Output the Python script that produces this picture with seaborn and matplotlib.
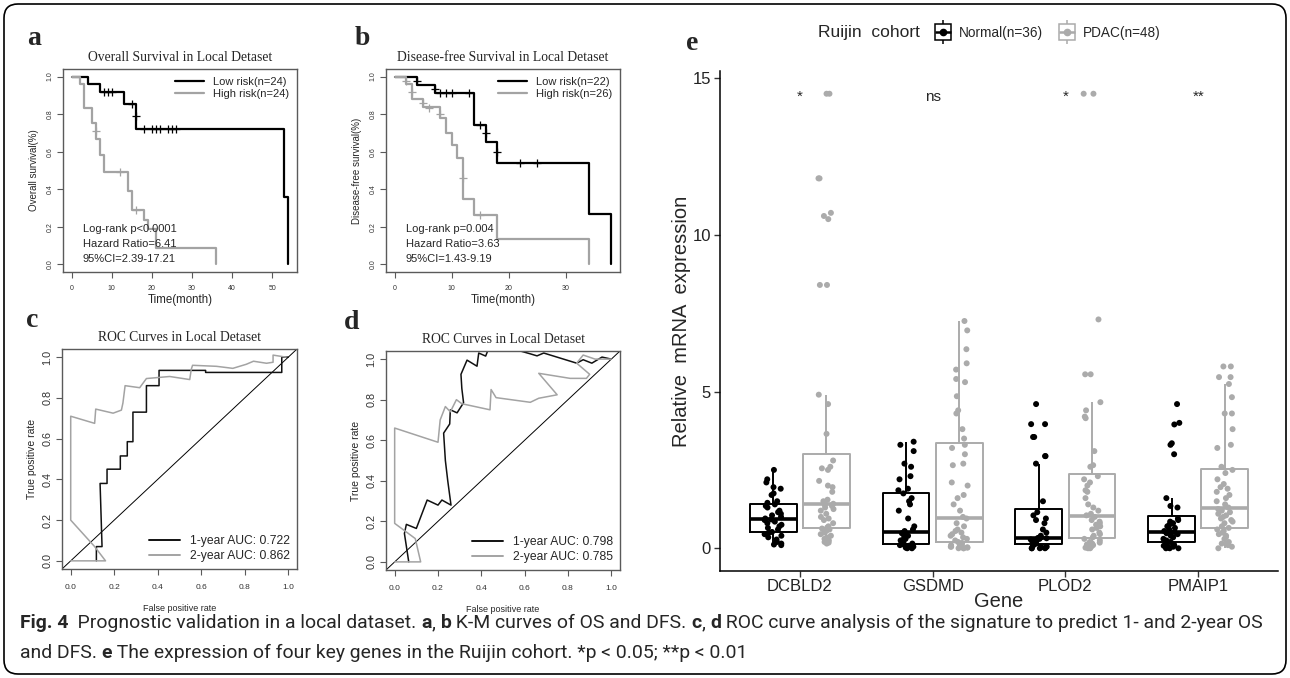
import numpy as np
import pandas as pd
import seaborn as sns
import matplotlib.pyplot as plt
from matplotlib import font_manager
from matplotlib.lines import Line2D
from matplotlib.legend_handler import HandlerTuple
from matplotlib.patches import FancyBboxPatch
from matplotlib.transforms import IdentityTransform

sns.set_style("ticks")
SANS = ["Liberation Sans", "DejaVu Sans"]
SERIF = ["Liberation Serif", "DejaVu Serif"]
plt.rcParams["font.family"] = SANS

W, H = 1290, 678
BLACK = "#000000"
GREY = "#a3a3a3"
FRAME = "#5a5a5a"

# ---------------- panel a: overall survival (step points, censor marks)
os_low_t = [0, 4, 7, 13, 16, 53, 54]
os_low_s = [1.0, 0.958, 0.917, 0.855, 0.72, 0.36, 0.0]
os_low_ct = [8, 9, 10, 15, 16, 18, 20, 21, 22, 24, 25, 26]
os_low_cs = [0.917, 0.917, 0.917, 0.855, 0.79, 0.72, 0.72, 0.72, 0.72, 0.72, 0.72, 0.72]
os_high_t = [0, 2, 3, 5, 6, 7, 8, 14, 15, 18, 19, 21, 36]
os_high_s = [1.0, 0.958, 0.835, 0.752, 0.668, 0.585, 0.49, 0.39, 0.292, 0.238, 0.19, 0.089, 0.0]
os_high_ct = [6, 12, 16]
os_high_cs = [0.71, 0.49, 0.292]

# ---------------- panel b: disease-free survival
dfs_low_t = [0, 4, 7, 14, 16, 18, 34, 38]
dfs_low_s = [1.0, 0.955, 0.91, 0.742, 0.649, 0.54, 0.268, 0.0]
dfs_low_ct = [4, 7, 8, 9, 10, 13, 15, 16, 18, 22, 25]
dfs_low_cs = [0.975, 0.935, 0.91, 0.91, 0.91, 0.91, 0.742, 0.70, 0.60, 0.54, 0.54]
dfs_high_t = [0, 2, 3, 5, 8, 9, 10, 11, 12, 14, 18, 34]
dfs_high_s = [1.0, 0.96, 0.882, 0.839, 0.777, 0.70, 0.637, 0.567, 0.35, 0.263, 0.133, 0.0]
dfs_high_ct = [2, 3, 5, 6, 8, 12, 15]
dfs_high_cs = [0.975, 0.92, 0.86, 0.835, 0.80, 0.46, 0.263]

# ---------------- panels c, d: ROC curves
c1_fpr = [0.118, 0.118, 0.144, 0.135, 0.167, 0.167, 0.228, 0.228, 0.26, 0.26, 0.286, 0.286,
          0.348, 0.348, 0.406, 0.406, 0.62, 0.62, 0.97, 0.97, 1.0]
c1_tpr = [0.0, 0.07, 0.07, 0.38, 0.38, 0.45, 0.45, 0.515, 0.515, 0.585, 0.585, 0.73,
          0.73, 0.86, 0.86, 0.935, 0.935, 0.925, 0.925, 1.0, 1.0]
c2_fpr = [0.0, 0.16, 0.11, 0.0, 0.0, 0.11, 0.115, 0.195, 0.233, 0.24, 0.25, 0.317, 0.348,
          0.455, 0.547, 0.554, 0.56, 0.67, 0.745, 0.807, 0.84, 0.9, 0.93, 0.93, 0.99]
c2_tpr = [0.0, 0.0, 0.07, 0.2, 0.71, 0.675, 0.745, 0.725, 0.74, 0.775, 0.86, 0.85, 0.895,
          0.905, 0.89, 0.94, 0.96, 0.955, 0.945, 0.965, 0.98, 0.97, 0.975, 1.01, 1.0]
d1_fpr = [0.065, 0.045, 0.054, 0.1, 0.15, 0.2, 0.218, 0.26, 0.245, 0.234, 0.226, 0.254, 0.257,
          0.288, 0.318, 0.31, 0.306, 0.334, 0.38, 0.388, 0.42, 0.44, 0.56, 0.58, 0.626, 0.657,
          0.688, 0.84, 0.87, 0.91, 0.957, 1.0]
d1_tpr = [0.0, 0.14, 0.185, 0.165, 0.305, 0.28, 0.305, 0.28, 0.4, 0.5, 0.635, 0.68, 0.75,
          0.735, 0.785, 0.855, 0.925, 0.995, 0.965, 1.03, 1.015, 1.07, 1.07, 1.04, 1.026, 1.016,
          1.03, 0.98, 0.997, 0.98, 1.01, 1.0]
d2_fpr = [0.0, 0.12, 0.095, 0.0, 0.0, 0.2, 0.21, 0.234, 0.257, 0.285, 0.31, 0.44, 0.445, 0.468,
          0.626, 0.665, 0.75, 0.665, 0.81, 0.885, 0.9, 0.84, 0.87, 0.925, 1.0]
d2_tpr = [0.0, 0.0, 0.115, 0.19, 0.66, 0.59, 0.70, 0.766, 0.74, 0.80, 0.78, 0.75, 0.85, 0.81,
          0.787, 0.807, 0.824, 0.93, 0.905, 0.905, 0.925, 0.98, 1.02, 1.0, 1.0]

# ---------------- panel e: relative mRNA expression
genes = ["DCBLD2", "GSDMD", "PLOD2", "PMAIP1"]
groups = ["Normal(n=36)", "PDAC(n=48)"]
signif = ["*", "ns", "*", "**"]
normal_vals = {
    "DCBLD2": [0.1, 0.12, 0.15, 0.2, 0.28, 0.35, 0.4, 0.45, 0.5, 0.52, 0.6, 0.65, 0.7, 0.75,
               0.8, 0.85, 0.9, 0.92, 0.95, 1.0, 1.05, 1.1, 1.15, 1.2, 1.3, 1.35, 1.4, 1.45,
               1.5, 1.7, 1.75, 1.9, 1.95, 2.1, 2.2, 2.5],
    "GSDMD": [0.0, 0.0, 0.02, 0.03, 0.05, 0.05, 0.08, 0.1, 0.12, 0.15, 0.2, 0.25, 0.3, 0.35,
              0.4, 0.45, 0.48, 0.5, 0.55, 0.6, 0.7, 0.95, 1.2, 1.4, 1.5, 1.6, 1.75, 1.85, 1.9,
              2.2, 2.3, 2.6, 2.7, 3.1, 3.3, 3.4],
    "PLOD2": [0.0, 0.0, 0.0, 0.0, 0.02, 0.03, 0.05, 0.08, 0.12, 0.15, 0.18, 0.2, 0.22, 0.25,
              0.28, 0.3, 0.32, 0.33, 0.35, 0.4, 0.5, 0.6, 0.8, 0.9, 0.95, 1.05, 1.15, 1.5,
              2.7, 2.94, 2.94, 3.55, 3.55, 3.96, 3.96, 4.6],
    "PMAIP1": [0.0, 0.0, 0.0, 0.02, 0.05, 0.08, 0.1, 0.12, 0.15, 0.2, 0.25, 0.3, 0.35, 0.4,
               0.45, 0.48, 0.5, 0.52, 0.55, 0.6, 0.65, 0.7, 0.75, 0.8, 0.85, 0.9, 0.95, 1.3,
               1.35, 1.6, 3.0, 3.3, 3.35, 3.95, 4.0, 4.6],
}
pdac_vals = {
    "DCBLD2": [0.15, 0.18, 0.2, 0.25, 0.3, 0.35, 0.4, 0.45, 0.5, 0.55, 0.6, 0.63, 0.66, 0.7,
               0.8, 0.9, 0.95, 1.0, 1.1, 1.2, 1.25, 1.3, 1.35, 1.38, 1.42, 1.45, 1.5, 1.55,
               1.8, 1.95, 2.0, 2.15, 2.5, 2.55, 2.6, 2.8, 3.65, 4.6, 4.9, 8.4, 8.4, 10.5,
               10.6, 10.7, 11.8, 11.8, 14.5, 14.5],
    "GSDMD": [0.0, 0.0, 0.0, 0.02, 0.03, 0.05, 0.05, 0.08, 0.1, 0.12, 0.15, 0.17, 0.2, 0.25,
              0.3, 0.35, 0.4, 0.45, 0.5, 0.55, 0.6, 0.7, 0.8, 0.95, 1.0, 1.2, 1.4, 1.6, 1.7,
              2.0, 2.1, 2.65, 2.7, 3.0, 3.2, 3.3, 3.5, 3.8, 4.3, 4.4, 4.85, 5.3, 5.4, 5.7,
              5.9, 6.35, 6.95, 7.25],
    "PLOD2": [0.0, 0.0, 0.02, 0.05, 0.08, 0.1, 0.12, 0.15, 0.18, 0.2, 0.25, 0.3, 0.35, 0.4,
              0.45, 0.5, 0.6, 0.65, 0.7, 0.75, 0.8, 0.85, 0.9, 1.0, 1.05, 1.1, 1.2, 1.3, 1.4,
              1.6, 1.8, 1.85, 2.0, 2.1, 2.2, 2.3, 2.6, 2.65, 3.1, 4.15, 4.2, 4.4, 4.66, 5.55,
              5.55, 7.3, 14.5, 14.5],
    "PMAIP1": [0.0, 0.05, 0.1, 0.15, 0.2, 0.3, 0.35, 0.4, 0.45, 0.5, 0.55, 0.6, 0.65, 0.7,
               0.8, 0.85, 0.9, 0.95, 1.0, 1.05, 1.1, 1.15, 1.2, 1.25, 1.3, 1.4, 1.5, 1.6, 1.7,
               1.8, 1.9, 1.95, 2.05, 2.2, 2.4, 2.5, 2.6, 3.2, 3.3, 3.8, 4.3, 4.3, 4.82, 5.24,
               5.46, 5.46, 5.8, 5.8],
}


def px_axes(fig, left, top, right, bottom):
    return fig.add_axes([left / W, 1 - bottom / H, (right - left) / W, (bottom - top) / H])


def r_frame(ax, xticks, xlim, tick_x, tick_y):
    ax.set_xlim(*xlim)
    ax.set_ylim(-0.04, 1.04)
    ax.set_xticks(xticks)
    ax.set_yticks([0, 0.2, 0.4, 0.6, 0.8, 1.0])
    ax.set_yticklabels(["0.0", "0.2", "0.4", "0.6", "0.8", "1.0"])
    for sp in ax.spines.values():
        sp.set_color(FRAME)
        sp.set_linewidth(1.0)
    ax.tick_params(axis="x", length=4, width=0.8, color=FRAME, labelsize=tick_x, pad=5, labelcolor="#333333")
    ax.tick_params(axis="y", length=4, width=0.8, color=FRAME, labelsize=tick_y, pad=3, labelcolor="#333333")
    plt.setp(ax.get_yticklabels(), rotation=90, va="center")


def km_panel(ax, curves, xlim, xticks, title, ylabel, legend_labels, stats):
    for t, s, ct, cs, col in curves:
        sns.lineplot(x=t, y=s, drawstyle="steps-post", color=col, lw=1.6,
                     estimator=None, sort=False, ax=ax)
        sns.scatterplot(x=ct, y=cs, marker="+", s=28, color=col, linewidth=0.9,
                        legend=False, ax=ax)
    r_frame(ax, xticks, xlim, 5, 5)
    ax.set_title(title, family=SERIF, fontsize=9.8, pad=6)
    ax.set_ylabel(ylabel, fontsize=7, labelpad=5)
    ax.set_xlabel("Time(month)", fontsize=8.3, labelpad=2)
    handles = [Line2D([], [], color=c[4], lw=1.6) for c in curves]
    ax.legend(handles, legend_labels, loc="upper right", frameon=False, fontsize=8,
              handlelength=2.6, borderaxespad=0.3, labelspacing=0.2)
    for i, line in enumerate(stats):
        ax.text(xlim[0] + 0.085 * (xlim[1] - xlim[0]), 0.19 - 0.08 * i, line,
                fontsize=8, va="center", ha="left")


def roc_panel(ax, fpr1, tpr1, fpr2, tpr2, labels):
    ax.axline((0, 0), (1, 1), color=BLACK, lw=0.7)
    sns.lineplot(x=fpr1, y=tpr1, color="#111111", lw=1.1, estimator=None, sort=False, ax=ax)
    sns.lineplot(x=fpr2, y=tpr2, color=GREY, lw=1.1, estimator=None, sort=False, ax=ax)
    r_frame(ax, [0, 0.2, 0.4, 0.6, 0.8, 1.0], (-0.04, 1.04), 6, 7.8)
    ax.set_xticklabels(["0.0", "0.2", "0.4", "0.6", "0.8", "1.0"])
    ax.tick_params(axis="x", pad=7)
    ax.set_title("ROC Curves in Local Detaset", family=SERIF, fontsize=9.8, pad=6)
    ax.set_ylabel("True positive rate", fontsize=7.5, labelpad=4)
    ax.set_xlabel("False positive rate", fontsize=6.5, labelpad=9)
    handles = [Line2D([], [], color="#111111", lw=1.4), Line2D([], [], color=GREY, lw=1.4)]
    ax.legend(handles, labels, loc="lower right", frameon=False, fontsize=8.7,
              handlelength=2.6, borderaxespad=0.2, labelspacing=0.2)


fig = plt.figure(figsize=(W / 100, H / 100), dpi=100)

ax_a = px_axes(fig, 63, 69, 297, 272)
km_panel(ax_a,
         [(os_low_t, os_low_s, os_low_ct, os_low_cs, BLACK),
          (os_high_t, os_high_s, os_high_ct, os_high_cs, GREY)],
         (-2.16, 56.16), [0, 10, 20, 30, 40, 50],
         "Overall Survival in Local Detaset", "Overall survival(%)",
         ["Low risk(n=24)", "High risk(n=24)"],
         ["Log-rank p<0.0001", "Hazard Ratio=6.41", "95%CI=2.39-17.21"])

ax_b = px_axes(fig, 386, 69, 620, 272)
km_panel(ax_b,
         [(dfs_low_t, dfs_low_s, dfs_low_ct, dfs_low_cs, BLACK),
          (dfs_high_t, dfs_high_s, dfs_high_ct, dfs_high_cs, GREY)],
         (-1.52, 39.52), [0, 10, 20, 30],
         "Disease-free Survival in Local Detaset", "Disease-free survival(%)",
         ["Low risk(n=22)", "High risk(n=26)"],
         ["Log-rank p=0.004", "Hazard Ratio=3.63", "95%CI=1.43-9.19"])

ax_c = px_axes(fig, 62, 349, 297, 569)
roc_panel(ax_c, c1_fpr, c1_tpr, c2_fpr, c2_tpr, ["1-year AUC: 0.722", "2-year AUC: 0.862"])

ax_d = px_axes(fig, 386, 351, 620, 570)
roc_panel(ax_d, d1_fpr, d1_tpr, d2_fpr, d2_tpr, ["1-year AUC: 0.798", "2-year AUC: 0.785"])

# ---------------- panel e
rows = []
for g in genes:
    rows += [(g, groups[0], v) for v in normal_vals[g]]
    rows += [(g, groups[1], v) for v in pdac_vals[g]]
df = pd.DataFrame(rows, columns=["gene", "cohort", "value"])

ax_e = px_axes(fig, 720, 71, 1278, 571)
pal = [BLACK, "#ababab"]
sns.boxplot(data=df, x="gene", y="value", hue="cohort", order=genes, hue_order=groups,
            palette=pal, fill=False, showfliers=False, showcaps=False, width=0.8, gap=0.12,
            linewidth=1.4, medianprops={"linewidth": 2.6}, legend=False, ax=ax_e)
np.random.seed(4)
sns.stripplot(data=df, x="gene", y="value", hue="cohort", order=genes, hue_order=groups,
              palette=pal, dodge=True, jitter=0.13, size=4.3, legend=False, ax=ax_e)
for i, lab in enumerate(signif):
    ax_e.text(i, 14.28, lab, ha="center", va="baseline", fontsize=11)
ax_e.set_xlim(-0.6, 3.6)
ax_e.set_ylim(-0.725, 15.225)
ax_e.set_yticks([0, 5, 10, 15])
sns.despine(ax=ax_e)
for sp in ("left", "bottom"):
    ax_e.spines[sp].set_linewidth(1.1)
    ax_e.spines[sp].set_color(BLACK)
ax_e.tick_params(length=4, width=1.0, color="#333333", labelsize=12, pad=2.5, labelcolor="#222222")
ax_e.tick_params(axis="x", pad=1.5)
ax_e.set_xlabel("Gene", fontsize=14.5, labelpad=-1)
ax_e.set_ylabel("Relative  mRNA  expression", fontsize=14.5, labelpad=1)

fig.text(818 / W, 1 - 33 / H, "Ruijin  cohort", fontsize=12.5, va="center", ha="left")
key_handles = []
for c in pal:
    key_handles.append((
        Line2D([], [], color=c, marker="|", ms=17, mew=1.1, ls=""),
        Line2D([], [], marker="s", ms=11, mfc="white", mec=c, mew=1.1, ls=""),
        Line2D([], [], color=c, marker="_", ms=11, mew=1.8, ls=""),
        Line2D([], [], color=c, marker="o", ms=4.5, ls=""),
    ))
fig.legend(key_handles, groups, loc="center left", bbox_to_anchor=(928 / W, 1 - 33 / H),
           ncol=2, frameon=False, fontsize=9.8, handler_map={tuple: HandlerTuple(ndivide=1)},
           handlelength=1.4, handletextpad=0.5, columnspacing=1.0, borderaxespad=0)

# ---------------- panel letters
for lab, x, y in [("a", 34, 45), ("b", 362, 45), ("c", 32, 327), ("d", 352, 329), ("e", 692, 50)]:
    fig.text(x / W, 1 - y / H, lab, family=SERIF, fontweight="bold", fontsize=20,
             ha="center", va="baseline")

# ---------------- caption
names = {f.name for f in font_manager.fontManager.ttflist}
cap_font = ["Liberation Sans Narrow"] if "Liberation Sans Narrow" in names else ["Roboto"]
renderer = fig.canvas.get_renderer()


def text_width(s, size, bold):
    probe = fig.text(0, 0, s + "|", fontsize=size, family=cap_font,
                     fontweight="bold" if bold else "normal")
    bar = fig.text(0, 0, "|", fontsize=size, family=cap_font,
                   fontweight="bold" if bold else "normal")
    w = probe.get_window_extent(renderer).width - bar.get_window_extent(renderer).width
    probe.remove()
    bar.remove()
    return w


def rich_line(x, y, pieces, size):
    for txt, bold in pieces:
        fig.text(x / W, 1 - y / H, txt, fontsize=size, family=cap_font,
                 fontweight="bold" if bold else "normal", va="baseline", ha="left")
        x += text_width(txt, size, bold)


line1 = [("Fig. 4", True), ("  Prognostic validation in a local dataset. ", False), ("a", True),
         (", ", False), ("b", True), (" K-M curves of OS and DFS. ", False), ("c", True),
         (", ", False), ("d", True),
         (" ROC curve analysis of the signature to predict 1- and 2-year OS", False)]
line2 = [("and DFS. ", False), ("e", True),
         (" The expression of four key genes in the Ruijin cohort. *p < 0.05; **p < 0.01", False)]
w10 = sum(text_width(t, 10, b) for t, b in line1)
cap_size = 10 * 1242 / w10
rich_line(20, 628, line1, cap_size)
rich_line(20, 658, line2, cap_size)

border = FancyBboxPatch((4, 4), W - 8, H - 8, boxstyle="round,pad=0,rounding_size=14",
                        transform=IdentityTransform(), fill=False, ec=BLACK, lw=1.2)
fig.add_artist(border)

fig.savefig("out.png", dpi=100)
